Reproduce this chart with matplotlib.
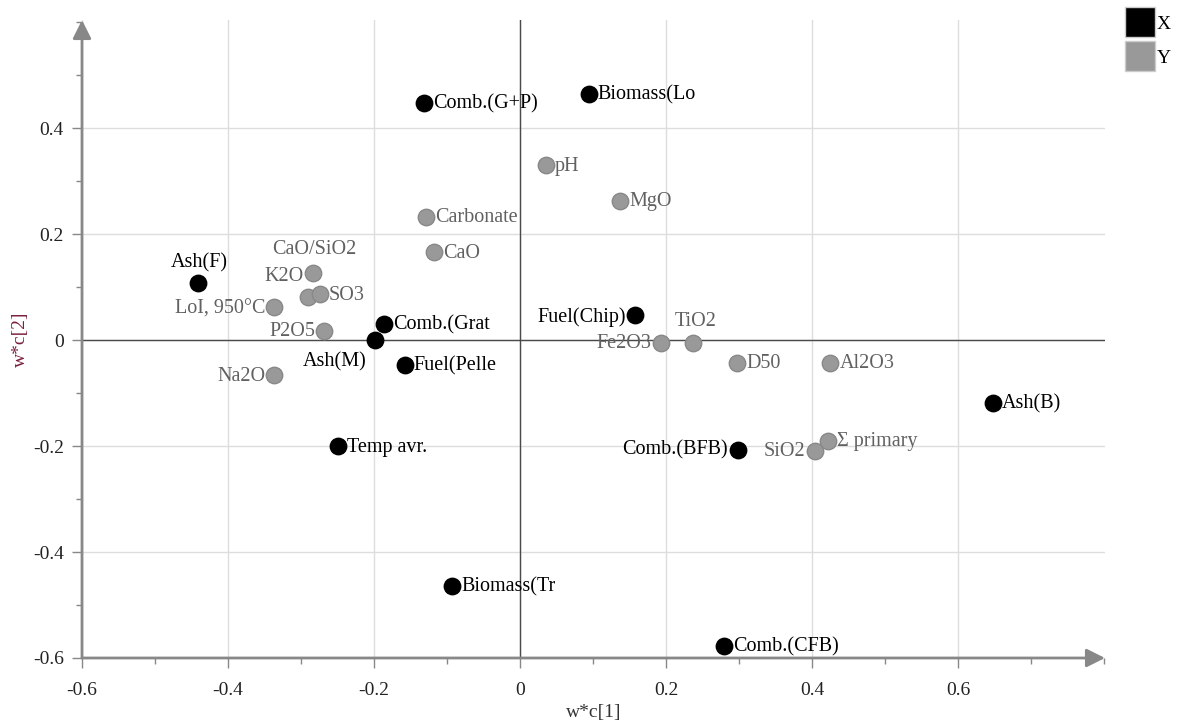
"""
plot.py
───────
PLS loading plot (w*c[1] vs w*c[2]) with X and Y variables.
"""

import matplotlib
matplotlib.use("Agg")
import matplotlib.pyplot as plt
from matplotlib.lines import Line2D
from matplotlib.ticker import MultipleLocator

# ── Data ──────────────────────────────────────────────────────────────────────
x_names = ["Comb.(G+P)", "Biomass(Lo", "Ash(F)", "Comb.(Grat", "Ash(M)",
           "Fuel(Pelle", "Temp avr.", "Fuel(Chip)", "Ash(B)", "Comb.(BFB)",
           "Biomass(Tr", "Comb.(CFB)"]
x_wc1 = [-0.132, 0.094, -0.441, -0.186, -0.199,
         -0.158, -0.249, 0.158, 0.647, 0.298,
         -0.093, 0.279]
x_wc2 = [0.448, 0.464, 0.107, 0.031, 0.001,
         -0.047, -0.200, 0.047, -0.119, -0.208,
         -0.464, -0.577]

y_names = ["pH", "MgO", "Carbonate", "CaO", "K2O", "CaO/SiO2", "SO3",
           "LoI, 950°C", "P2O5", "Na2O", "Fe2O3", "TiO2", "D50", "Al2O3",
           "SiO2", "Σ primary"]
y_wc1 = [0.035, 0.137, -0.129, -0.118, -0.283, -0.291, -0.274,
         -0.337, -0.268, -0.337, 0.193, 0.237, 0.297, 0.425,
         0.404, 0.422]
y_wc2 = [0.330, 0.263, 0.233, 0.166, 0.127, 0.082, 0.086,
         0.063, 0.018, -0.065, -0.005, -0.005, -0.043, -0.043,
         -0.209, -0.190]

# label placement: (dx px, dy px, ha)  – default is right of the marker
label_pos = {
    "Ash(F)": (1, 21, "center"),
    "CaO/SiO2": (7, 47, "center"),
    "K2O": (-10, -4, "right"),
    "LoI, 950°C": (-9, -2, "right"),
    "P2O5": (-9, -1, "right"),
    "Na2O": (-8, -2, "right"),
    "Ash(M)": (-8, -22, "right"),
    "Fuel(Chip)": (-10, -2, "right"),
    "Fe2O3": (-10, -1, "right"),
    "TiO2": (2, 21, "center"),
    "Comb.(BFB)": (-10, 0, "right"),
    "SiO2": (-10, -1, "right"),
}

SERIF = "Liberation Serif"
FS = 14
LFS = 14.5
X_COL = "#000000"
Y_COL = "#999999"

# ── Figure ────────────────────────────────────────────────────────────────────
fig = plt.figure(figsize=(11.8, 7.24), dpi=100)
ax = fig.add_axes([82 / 1180, 66 / 724, 1023 / 1180, 638 / 724])

ax.set_xlim(-0.6, 0.801)
ax.set_ylim(-0.6, 0.604)

ax.xaxis.set_minor_locator(MultipleLocator(0.1))
ax.yaxis.set_minor_locator(MultipleLocator(0.1))
ax.set_xticks([-0.6, -0.4, -0.2, 0, 0.2, 0.4, 0.6])
ax.set_xticklabels(["-0.6", "-0.4", "-0.2", "0", "0.2", "0.4", "0.6"])
ax.set_yticks([-0.6, -0.4, -0.2, 0, 0.2, 0.4])
ax.set_yticklabels(["-0.6", "-0.4", "-0.2", "0", "0.2", "0.4"])
ax.tick_params(which="major", length=7, width=1, color="#888888",
               labelsize=FS, pad=6)
ax.tick_params(axis="x", which="major", pad=10)
ax.tick_params(which="minor", length=4, width=1, color="#888888")
for lab in ax.get_xticklabels() + ax.get_yticklabels():
    lab.set_fontfamily(SERIF)
    lab.set_color("#222222")

ax.set_axisbelow(True)
ax.grid(True, which="major", color="#dddddd", lw=1)
ax.axhline(0, color="#4a4a4a", lw=1, zorder=2)
ax.axvline(0, color="#4a4a4a", lw=1, zorder=2)

for sp in ax.spines.values():
    sp.set_visible(False)

# axis arrows
arrow = dict(arrowstyle="-|>", color="#888888", lw=2, mutation_scale=28,
             shrinkA=0, shrinkB=0)
ax.annotate("", xy=(0, 1), xytext=(0, 0), xycoords="axes fraction",
            arrowprops=arrow, annotation_clip=False)
ax.annotate("", xy=(1, 0), xytext=(0, 0), xycoords="axes fraction",
            arrowprops=arrow, annotation_clip=False)

ax.set_xlabel("w*c[1]", fontfamily=SERIF, fontsize=FS, color="#333333",
              labelpad=4)
ax.set_ylabel("w*c[2]", fontfamily=SERIF, fontsize=FS, color="#7a1f3d",
              labelpad=3)

# ── Points ────────────────────────────────────────────────────────────────────
ax.scatter(y_wc1, y_wc2, s=140, color=Y_COL, edgecolors="#888888",
           linewidths=1, zorder=3)
ax.scatter(x_wc1, x_wc2, s=140, color=X_COL, edgecolors="#000000",
           linewidths=1, zorder=4)


def put_labels(names, xs, ys, col):
    for n, xv, yv in zip(names, xs, ys):
        dx, dy, ha = label_pos.get(n, (9, -1, "left"))
        ax.annotate(n, (xv, yv), xytext=(dx, dy), textcoords="offset pixels",
                    ha=ha, va="center", fontfamily=SERIF, fontsize=LFS,
                    color=col, zorder=5)


put_labels(y_names, y_wc1, y_wc2, "#616161")
put_labels(x_names, x_wc1, x_wc2, "#000000")

# ── Legend ────────────────────────────────────────────────────────────────────
handles = [Line2D([], [], marker="s", ls="", ms=21, color=X_COL,
                  markeredgecolor="#cccccc"),
           Line2D([], [], marker="s", ls="", ms=21, color=Y_COL,
                  markeredgecolor="#cccccc")]
fig.legend(handles, ["X", "Y"], loc="upper left",
           bbox_to_anchor=(1111 / 1180, 1.0), frameon=False,
           prop={"family": SERIF, "size": FS}, handlelength=1.4,
           handletextpad=0.15, labelspacing=0.85, borderpad=0.3)

fig.savefig("out.png", dpi=100)
